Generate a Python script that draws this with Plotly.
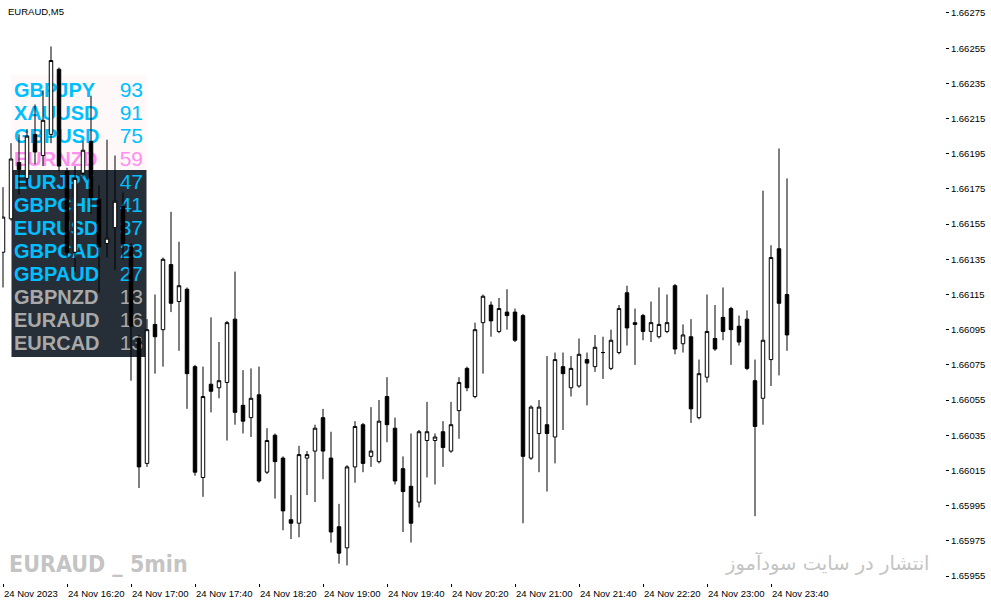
import plotly.graph_objects as go

# ---------------- data (EURAUD, M5, 24 Nov 2023 15:40 -> 23:50) ----------------
opens = [1.66139, 1.66158, 1.66190, 1.66181, 1.66206, 1.66194, 1.66206, 1.66243, 1.66185, 1.66139,
         1.66184, 1.66202, 1.66169, 1.66144, 1.66153, 1.66165, 1.66142, 1.66090, 1.66019, 1.66098,
         1.66095, 1.66132, 1.66111, 1.66118, 1.66074, 1.66011, 1.66064, 1.66062, 1.66065, 1.66101,
         1.66052, 1.66045, 1.66058, 1.66014, 1.66035, 1.66022, 1.65987, 1.65985, 1.66022, 1.66026,
         1.66045, 1.66022, 1.65983, 1.65971, 1.66017, 1.66041, 1.66023, 1.66020, 1.66057, 1.66039,
         1.66016, 1.66006, 1.65997, 1.66032, 1.66032, 1.66037, 1.66026, 1.66049, 1.66073, 1.66057,
         1.66099, 1.66109, 1.66094, 1.66105, 1.66105, 1.66103, 1.66022, 1.66036, 1.66041, 1.66034,
         1.66074, 1.66062, 1.66063, 1.66078, 1.66074, 1.66082, 1.66073, 1.66082, 1.66116, 1.66099,
         1.66103, 1.66094, 1.66091, 1.66094, 1.66120, 1.66087, 1.66091, 1.66045, 1.66068, 1.66090,
         1.66102, 1.66107, 1.66097, 1.66101, 1.66066, 1.66056, 1.66078, 1.66141, 1.66115]
highs = [1.66176, 1.66201, 1.66206, 1.66209, 1.66223, 1.66231, 1.66256, 1.66244, 1.66187, 1.66188,
         1.66202, 1.66228, 1.66177, 1.66203, 1.66194, 1.66173, 1.66144, 1.66092, 1.66101, 1.66115,
         1.66136, 1.66162, 1.66145, 1.66119, 1.66075, 1.66074, 1.66102, 1.66088, 1.66100, 1.66128,
         1.66072, 1.66073, 1.66074, 1.66039, 1.66036, 1.66023, 1.66001, 1.66029, 1.66026, 1.66041,
         1.66050, 1.66037, 1.65996, 1.66018, 1.66043, 1.66042, 1.66051, 1.66055, 1.66068, 1.66045,
         1.66023, 1.66036, 1.66038, 1.66054, 1.66036, 1.66043, 1.66054, 1.66068, 1.66074, 1.66099,
         1.66115, 1.66111, 1.66113, 1.66118, 1.66107, 1.66104, 1.66052, 1.66055, 1.66080, 1.66082,
         1.66082, 1.66080, 1.66090, 1.66082, 1.66092, 1.66091, 1.66095, 1.66109, 1.66120, 1.66107,
         1.66104, 1.66111, 1.66119, 1.66115, 1.66121, 1.66098, 1.66101, 1.66078, 1.66115, 1.66109,
         1.66119, 1.66108, 1.66103, 1.66106, 1.66078, 1.66174, 1.66143, 1.66198, 1.66181]
lows = [1.66119, 1.66157, 1.66172, 1.66177, 1.66189, 1.66188, 1.66201, 1.66185, 1.66136, 1.66128,
        1.66182, 1.66161, 1.66116, 1.66136, 1.66129, 1.66135, 1.66066, 1.66005, 1.66017, 1.66070,
        1.66074, 1.66105, 1.66083, 1.66050, 1.66012, 1.66000, 1.66048, 1.66056, 1.66032, 1.66041,
        1.66036, 1.66034, 1.66008, 1.66013, 1.65999, 1.65981, 1.65976, 1.65977, 1.66001, 1.65997,
        1.66010, 1.65974, 1.65962, 1.65961, 1.66008, 1.66014, 1.66017, 1.66019, 1.66031, 1.66007,
        1.65980, 1.65974, 1.65994, 1.66011, 1.66007, 1.66017, 1.66025, 1.66033, 1.66060, 1.66056,
        1.66070, 1.66091, 1.66093, 1.66095, 1.66088, 1.65985, 1.66021, 1.66014, 1.66003, 1.66019,
        1.66038, 1.66057, 1.66062, 1.66052, 1.66071, 1.66067, 1.66072, 1.66081, 1.66086, 1.66075,
        1.66089, 1.66088, 1.66090, 1.66093, 1.66081, 1.66082, 1.66042, 1.66044, 1.66065, 1.66083,
        1.66089, 1.66075, 1.66086, 1.66072, 1.65989, 1.66041, 1.66063, 1.66069, 1.66083]
closes = [1.66159, 1.66192, 1.66186, 1.66205, 1.66196, 1.66214, 1.66248, 1.66188, 1.66139, 1.66181,
          1.66197, 1.66170, 1.66142, 1.66147, 1.66168, 1.66144, 1.66097, 1.66017, 1.66095, 1.66091,
          1.66135, 1.66110, 1.66120, 1.66070, 1.66014, 1.66057, 1.66060, 1.66066, 1.66099, 1.66048,
          1.66043, 1.66056, 1.66009, 1.66032, 1.66020, 1.65992, 1.65985, 1.66024, 1.66024, 1.66039,
          1.66026, 1.65980, 1.65968, 1.66017, 1.66040, 1.66019, 1.66026, 1.66043, 1.66041, 1.66009,
          1.66003, 1.65985, 1.66037, 1.66037, 1.66034, 1.66028, 1.66041, 1.66065, 1.66062, 1.66095,
          1.66114, 1.66100, 1.66107, 1.66103, 1.66089, 1.66023, 1.66051, 1.66051, 1.66036, 1.66078,
          1.66070, 1.66073, 1.66081, 1.66076, 1.66085, 1.66082, 1.66089, 1.66107, 1.66096, 1.66098,
          1.66094, 1.66099, 1.66098, 1.66099, 1.66084, 1.66092, 1.66050, 1.66070, 1.66094, 1.66084,
          1.66094, 1.66095, 1.66088, 1.66073, 1.66040, 1.66089, 1.66136, 1.66110, 1.66092]

bar_index = list(range(len(opens)))

time_tick_bars = [0, 8, 16, 24, 32, 40, 48, 56, 64, 72, 80, 88, 96]
time_tick_labels = ["24 Nov 2023", "24 Nov 16:20", "24 Nov 17:00", "24 Nov 17:40",
                    "24 Nov 18:20", "24 Nov 19:00", "24 Nov 19:40", "24 Nov 20:20",
                    "24 Nov 21:00", "24 Nov 21:40", "24 Nov 22:20", "24 Nov 23:00",
                    "24 Nov 23:40"]

price_ticks = [1.65955, 1.65975, 1.65995, 1.66015, 1.66035, 1.66055, 1.66075, 1.66095,
               1.66115, 1.66135, 1.66155, 1.66175, 1.66195, 1.66215, 1.66235, 1.66255, 1.66275]

panel_symbols = ["GBPJPY", "XAUUSD", "GBPUSD", "EURNZD", "EURJPY", "GBPCHF",
                 "EURUSD", "GBPCAD", "GBPAUD", "GBPNZD", "EURAUD", "EURCAD"]
panel_values = [93, 91, 75, 59, 47, 41, 37, 23, 27, 13, 16, 13]
panel_colors = ["#00BFFF", "#00BFFF", "#00BFFF", "#FF90F0", "#00BFFF", "#00BFFF",
                "#00BFFF", "#00BFFF", "#00BFFF", "#A9A9A9", "#A9A9A9", "#A9A9A9"]

# ---------------- layout geometry (pixels) ----------------
W, H = 991, 605
L_PX, R_PX, T_PX, B_PX = 2, 945, 3, 583
X_RANGE = [-0.125, -0.125 + (R_PX - L_PX) / 8.0]
Y_RANGE = [1.6595102, 1.6628068]


def px_x(px):
    return (px - L_PX) / (R_PX - L_PX)


def px_y(py):
    return (B_PX - py) / (B_PX - T_PX)


def dx(px):  # pixel -> x data (for the overlay panel text)
    return X_RANGE[0] + px_x(px) * (X_RANGE[1] - X_RANGE[0])


def dy(py):
    return Y_RANGE[0] + px_y(py) * (Y_RANGE[1] - Y_RANGE[0])


row_y = [dy(92 + 23 * i) for i in range(len(panel_symbols))]

fig = go.Figure()
# panel texts (below the candles, like the MT4 screenshot)
fig.add_trace(go.Scatter(
    x=[dx(14)] * len(panel_symbols), y=row_y, mode="text", text=panel_symbols,
    textposition="middle right", hoverinfo="skip", showlegend=False, zorder=0, cliponaxis=False,
    textfont=dict(family="Liberation Sans, Arial", size=20, color=panel_colors, weight="bold"),
))
fig.add_trace(go.Scatter(
    x=[dx(143)] * len(panel_values), y=row_y, mode="text", text=[str(v) for v in panel_values],
    textposition="middle left", hoverinfo="skip", showlegend=False, zorder=0, cliponaxis=False,
    textfont=dict(family="Liberation Sans, Arial", size=21, color=panel_colors),
))
fig.add_trace(go.Candlestick(
    x=bar_index, open=opens, high=highs, low=lows, close=closes,
    increasing=dict(line=dict(color="black", width=1), fillcolor="white"),
    decreasing=dict(line=dict(color="black", width=1), fillcolor="black"),
    whiskerwidth=0, hoverinfo="skip", showlegend=False, zorder=5,
))

shapes = [
    dict(type="rect", xref="paper", yref="paper", layer="below",
         x0=px_x(11.5), x1=px_x(146.5), y0=px_y(170), y1=px_y(75),
         fillcolor="#FFF8F8", line=dict(width=0)),
    dict(type="rect", xref="paper", yref="paper", layer="below",
         x0=px_x(11.5), x1=px_x(146.5), y0=px_y(357), y1=px_y(170),
         fillcolor="#262E37", line=dict(width=0)),
]

annotations = []
for b, lab in zip(time_tick_bars, time_tick_labels):
    annotations.append(dict(x=b, xref="x", y=0, yref="paper", yanchor="top", xanchor="left",
                            yshift=-3, xshift=-1, text=lab, showarrow=False,
                            font=dict(family="Liberation Sans, Arial", size=9.5, color="black")))

annotations.append(dict(x=px_x(6), xref="paper", y=px_y(11), yref="paper",
                        xanchor="left", yanchor="middle", text="EURAUD,M5", showarrow=False,
                        font=dict(family="Liberation Sans, Arial", size=9.5, color="black")))
annotations.append(dict(x=px_x(7), xref="paper", y=px_y(564), yref="paper",
                        xanchor="left", yanchor="middle", text="<b>EURAUD _ 5min</b>",
                        showarrow=False,
                        font=dict(family="DejaVu Sans Condensed, Liberation Sans Narrow",
                                  size=23, color="#C4C4C4")))
annotations.append(dict(x=px_x(931), xref="paper", y=px_y(563), yref="paper",
                        xanchor="right", yanchor="middle", text="انتشار در سایت سودآموز",
                        showarrow=False,
                        font=dict(family="DejaVu Sans", size=19.5, color="#C4C4C4")))

fig.update_layout(
    width=W, height=H,
    margin=dict(l=L_PX, r=W - R_PX, t=T_PX, b=H - B_PX, pad=0, autoexpand=False),
    paper_bgcolor="white", plot_bgcolor="white",
    showlegend=False, boxgap=0.38,
    shapes=shapes, annotations=annotations,
    xaxis=dict(range=X_RANGE, rangeslider=dict(visible=False),
               showgrid=False, zeroline=False, showline=True, linecolor="black", linewidth=1,
               mirror=True, tickvals=time_tick_bars, ticks="outside", ticklen=3,
               tickcolor="black", showticklabels=False),
    yaxis=dict(range=Y_RANGE, side="right", showgrid=False, zeroline=False,
               showline=True, linecolor="black", linewidth=1, mirror=True,
               tickvals=price_ticks, ticktext=["%.5f" % p for p in price_ticks],
               ticks="outside", ticklen=3, tickcolor="black",
               tickfont=dict(family="Liberation Sans, Arial", size=9.5, color="black")),
)

fig.write_html("out.html", config={"displayModeBar": False},
               post_script="document.body.style.margin='0';document.body.style.padding='0';"
                           "document.body.style.overflow='hidden';")
